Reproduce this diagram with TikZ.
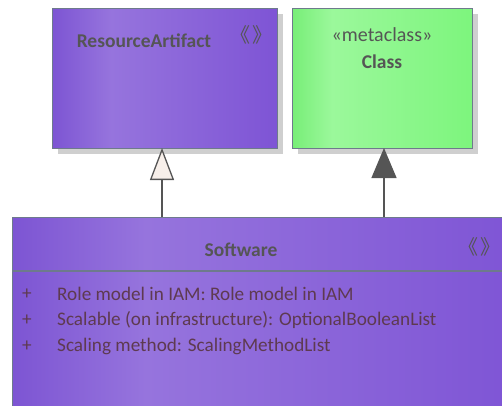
\documentclass[tikz,border=0pt]{standalone}
\usepackage{fontspec}
\setmainfont{Carlito}
\newfontfamily\cjk{Noto Sans CJK SC}
\usetikzlibrary{arrows.meta}
\definecolor{bordc}{HTML}{6E7A8C}
\definecolor{txtc}{HTML}{555555}
\definecolor{attc}{HTML}{5E3A50}
\definecolor{shad}{HTML}{CFCFCF}
\definecolor{pa}{HTML}{7D55D3}
\definecolor{pb}{HTML}{9674DD}
\definecolor{pc}{HTML}{7E54D5}
\definecolor{ga}{HTML}{78EE78}
\definecolor{gb}{HTML}{9BF89B}
\definecolor{gc}{HTML}{7DF57D}
\definecolor{tipc}{HTML}{F7EFEA}
\pgfdeclarehorizontalshading{purp}{100bp}{color(0bp)=(pa); color(25bp)=(pa); color(38bp)=(pb); color(75bp)=(pc); color(100bp)=(pc)}
\pgfdeclarehorizontalshading{grn}{100bp}{color(0bp)=(ga); color(25bp)=(ga); color(36bp)=(gb); color(75bp)=(gc); color(100bp)=(gc)}
\tikzset{
  umlbox/.style={draw=bordc, line width=1.2pt, shading=#1, inner sep=0pt, anchor=north west},
  lbl/.style={text=txtc, inner sep=0pt, font=\fontsize{20}{22}\selectfont},
  blbl/.style={text=txtc, inner sep=0pt, font=\fontsize{19.5}{22}\selectfont\bfseries},
  ster/.style={text=txtc, inner sep=0pt, font=\cjk\fontsize{20}{22}\selectfont},
  att/.style={text=attc, inner sep=0pt, anchor=west, font=\fontsize{19.2}{22}\selectfont},
  conn/.style={draw=txtc, line width=1.3pt}
}
\begin{document}
\begin{tikzpicture}[x=1pt,y=-1pt]
\useasboundingbox (0,0) rectangle (502,405);
\clip (0,0) rectangle (502,405);
% shadows
\fill[shad] (58,14) rectangle (283,154);
\fill[shad] (298,14) rectangle (478,154);
% boxes
\node[umlbox=purp, minimum width=225pt, minimum height=140pt] (ra) at (52,8) {};
\node[umlbox=grn, minimum width=180pt, minimum height=140pt] (cl) at (292,8) {};
\node[umlbox=purp, minimum width=510pt, minimum height=200pt] (sw) at (12,217) {};
\draw[draw=bordc, line width=1.2pt] (12,271) -- (520,271);
% labels
\node[blbl] (ratxt) at (144,41) {ResourceArtifact};
\node[ster] (rast) at (251,35) {\kern-6pt《\hspace{2pt}》\kern-6pt};
\node[lbl] (clst) at (382,35) {«metaclass»};
\node[blbl] (cltxt) at (382,62) {Class};
\node[blbl] (swtxt) at (241,250) {Software};
\node[ster] (swst) at (479,247) {\kern-6pt《\hspace{2pt}》\kern-6pt};
% attributes
\node[att] (p1) at (22,294) {+};
\node[att] (a1) at (57,294) {Role model in IAM: Role model in IAM};
\node[att] (p2) at (22,320) {+};
\node[att] (a2) at (57,320) {Scalable (on infrastructure): OptionalBooleanList};
\node[att] (p3) at (22,346) {+};
\node[att] (a3) at (57,346) {Scaling method: ScalingMethodList};
% connectors
\coordinate (s1) at (162,217);
\coordinate (t1) at (162,148);
\coordinate (s2) at (384,217);
\coordinate (t2) at (384,148);
\draw[conn, -{Triangle[open, width=24pt, length=32pt, fill=tipc]}] (s1) -- (t1);
\draw[conn, -{Triangle[width=25pt, length=30pt, fill=txtc]}] (s2) -- (t2);
\end{tikzpicture}
\end{document}
